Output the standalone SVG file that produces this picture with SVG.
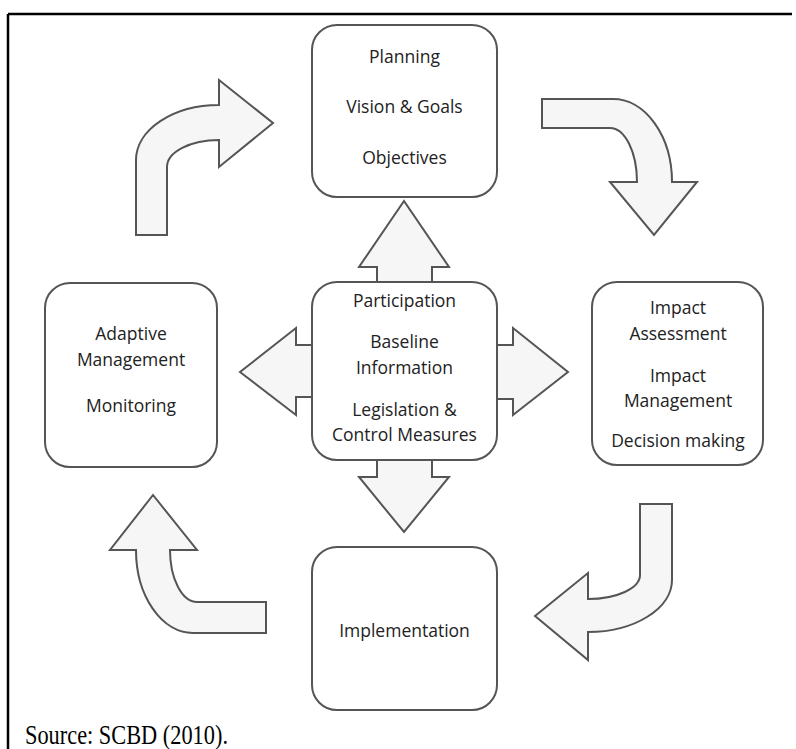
<svg xmlns="http://www.w3.org/2000/svg" width="796" height="749" viewBox="0 0 796 749">
  <style>
    .frame { stroke: #000; stroke-width: 2.5; fill: none; }
    .box { fill: #fff; stroke: #555; stroke-width: 2; }
    .arrow { fill: #f6f6f6; stroke: #555; stroke-width: 2; stroke-linejoin: miter; }
    .label { font-family: "Open Sans", "Noto Sans", "DejaVu Sans", sans-serif; font-size: 17.5px; fill: #222; text-anchor: middle; }
    .source { font-family: "Liberation Serif", "Times New Roman", serif; font-size: 28px; fill: #000; }
  </style>

  <!-- page frame (top and left rules) -->
  <path class="frame" d="M 8 14 L 792 14 M 8 14 L 8 749"/>

  <g id="connectors">
    <!-- curved cycle arrows -->
    <path class="arrow" d="M 136 235 L 136 160 A 83 55 0 0 1 219 105 L 219 80 L 273 123 L 219 167 L 219 140 A 52 27 0 0 0 167 167 L 167 235 Z"/>
    <path class="arrow" d="M 542 99 L 613 99 A 59 83 0 0 1 672 182 L 697 182 L 654 235 L 610 182 L 637 182 A 27 54 0 0 0 610 128 L 542 128 Z"/>
    <path class="arrow" d="M 640 504 L 672 504 L 672 580 A 84 52 0 0 1 588 632 L 588 660 L 535 616 L 588 573 L 588 599 A 52 24 0 0 0 640 575 Z"/>
    <path class="arrow" d="M 266 602 L 266 633 L 193 633 A 57 83 0 0 1 136 550 L 110 550 L 153 495 L 197 550 L 170 550 A 27 52 0 0 0 197 602 Z"/>
    <!-- straight arrows out of the central box -->
    <path class="arrow" d="M 377 284 L 377 267 L 359 267 L 404 201 L 449 267 L 432 267 L 432 284 Z"/>
    <path class="arrow" d="M 377 458 L 377 477 L 359 477 L 404 532 L 449 477 L 432 477 L 432 458 Z"/>
    <path class="arrow" d="M 314 345 L 296 345 L 296 328 L 240 372 L 296 415 L 296 397 L 314 397 Z"/>
    <path class="arrow" d="M 495 345 L 513 345 L 513 328 L 568 372 L 513 415 L 513 399 L 495 399 Z"/>
  </g>

  <g id="planning">
    <rect class="box" x="312" y="25" width="185" height="172" rx="25"/>
    <text class="label" x="404.5" y="63">Planning</text>
    <text class="label" x="404.5" y="113">Vision &amp; Goals</text>
    <text class="label" x="404.5" y="164">Objectives</text>
  </g>

  <g id="core">
    <rect class="box" x="312" y="282" width="185" height="178" rx="25"/>
    <text class="label" x="404.5" y="307">Participation</text>
    <text class="label" x="404.5" y="348">Baseline</text>
    <text class="label" x="404.5" y="374">Information</text>
    <text class="label" x="404.5" y="416">Legislation &amp;</text>
    <text class="label" x="404.5" y="441">Control Measures</text>
  </g>

  <g id="adaptive">
    <rect class="box" x="45" y="283" width="172" height="184" rx="25"/>
    <text class="label" x="131" y="340">Adaptive</text>
    <text class="label" x="131" y="366">Management</text>
    <text class="label" x="131" y="412">Monitoring</text>
  </g>

  <g id="impact">
    <rect class="box" x="592" y="282" width="171" height="183" rx="25"/>
    <text class="label" x="678" y="314">Impact</text>
    <text class="label" x="678" y="340">Assessment</text>
    <text class="label" x="678" y="382">Impact</text>
    <text class="label" x="678" y="407">Management</text>
    <text class="label" x="678" y="447">Decision making</text>
  </g>

  <g id="implementation">
    <rect class="box" x="312" y="547" width="185" height="163" rx="25"/>
    <text class="label" x="404.5" y="637">Implementation</text>
  </g>

  <text class="source" x="25" y="744" textLength="203" lengthAdjust="spacingAndGlyphs">Source: SCBD (2010).</text>
</svg>
